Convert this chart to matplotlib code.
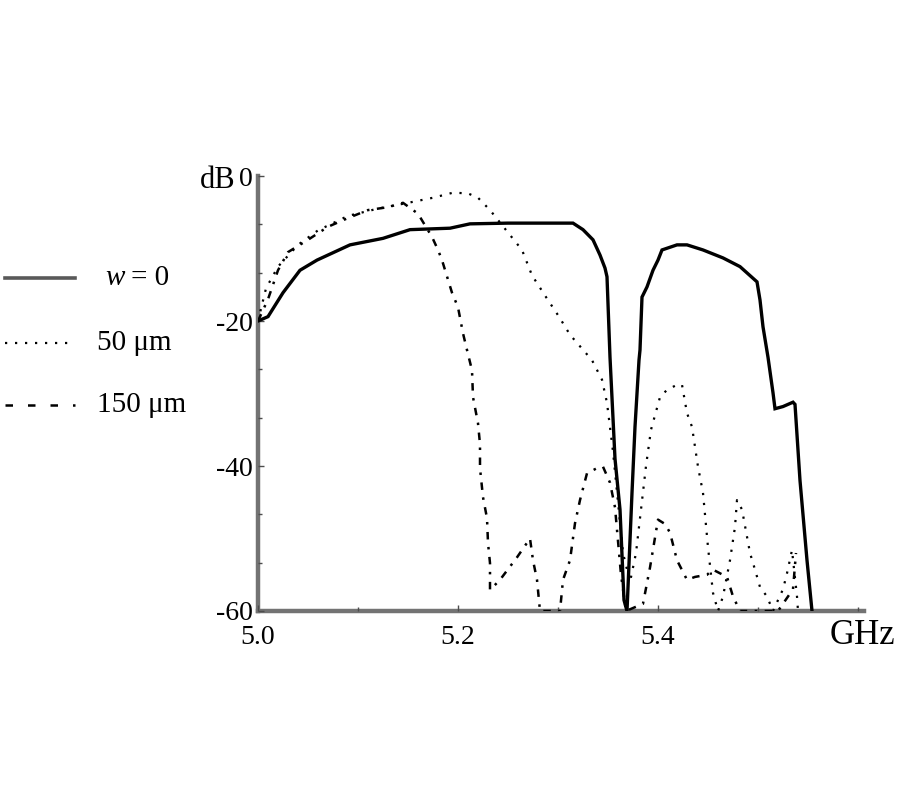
import matplotlib
matplotlib.use("Agg")
import matplotlib.pyplot as plt
from matplotlib.lines import Line2D

# ---- data ----
freq_w0 = [5.000, 5.010, 5.025, 5.042, 5.059, 5.092, 5.125, 5.152, 5.192, 5.212, 5.250,
           5.315, 5.325, 5.335, 5.342, 5.347, 5.349, 5.352, 5.357, 5.362, 5.366, 5.369,
           5.374, 5.377, 5.381, 5.382, 5.384, 5.389, 5.395, 5.400, 5.404, 5.419, 5.429,
           5.445, 5.465, 5.482, 5.499, 5.502, 5.505, 5.510, 5.515, 5.517, 5.525, 5.535,
           5.537, 5.542, 5.549, 5.554]
db_w0 = [-20.0, -19.4, -16.1, -13.0, -11.6, -9.5, -8.6, -7.4, -7.2, -6.6, -6.5,
         -6.5, -7.4, -8.8, -10.9, -12.7, -13.9, -25.0, -39.0, -46.0, -58.5, -60.0,
         -43.7, -34.6, -25.4, -24.0, -16.7, -15.3, -13.0, -11.6, -10.2, -9.5, -9.5,
         -10.2, -11.3, -12.5, -14.6, -17.1, -20.8, -25.0, -29.9, -32.1, -31.8, -31.2,
         -31.5, -42.0, -53.0, -60.0]

freq_50 = [5.000, 5.008, 5.020, 5.040, 5.060, 5.090, 5.120, 5.150, 5.175, 5.195, 5.210,
           5.220, 5.232, 5.264, 5.274, 5.288, 5.301, 5.312, 5.334, 5.344, 5.349, 5.355,
           5.360, 5.365, 5.372, 5.378, 5.383, 5.388, 5.393, 5.402, 5.409, 5.419, 5.424,
           5.429, 5.434, 5.440, 5.445, 5.450, 5.455, 5.460, 5.465, 5.472, 5.477, 5.479,
           5.484, 5.492, 5.497, 5.502, 5.509, 5.515, 5.525, 5.529, 5.534, 5.539, 5.540]
db_50 = [-20.0, -15.5, -12.5, -9.5, -7.5, -5.5, -4.5, -3.7, -3.0, -2.3, -2.4,
         -3.0, -4.7, -10.2, -13.7, -16.7, -19.4, -21.9, -25.4, -28.1, -31.3, -38.0,
         -45.0, -52.0, -56.0, -52.0, -46.0, -40.0, -35.0, -30.5, -29.5, -28.8, -28.8,
         -32.7, -34.6, -40.1, -43.7, -51.2, -57.5, -60.0, -58.0, -53.0, -48.4, -44.7,
         -46.0, -52.0, -54.3, -56.7, -58.0, -60.0, -57.0, -54.8, -51.6, -58.0, -60.0]

freq_150 = [5.000, 5.010, 5.020, 5.030, 5.050, 5.070, 5.090, 5.110, 5.130, 5.145, 5.160,
            5.174, 5.180, 5.184, 5.190, 5.194, 5.200, 5.205, 5.209, 5.214, 5.215, 5.220,
            5.222, 5.222, 5.225, 5.229, 5.230, 5.232, 5.232, 5.242, 5.259, 5.272, 5.275,
            5.279, 5.282, 5.302, 5.305, 5.312, 5.317, 5.322, 5.329, 5.339, 5.345, 5.352,
            5.357, 5.363, 5.368, 5.385, 5.392, 5.400, 5.407, 5.412, 5.419, 5.429, 5.437,
            5.449, 5.455, 5.469, 5.475, 5.482, 5.520, 5.535, 5.538]
db_150 = [-20.0, -17.0, -13.0, -10.5, -8.8, -7.0, -5.8, -4.7, -4.3, -3.7, -5.2,
          -8.4, -10.2, -11.6, -14.3, -16.1, -18.1, -21.7, -24.0, -26.8, -30.5, -34.1,
          -37.0, -40.3, -44.3, -47.2, -50.6, -53.4, -57.1, -55.7, -52.6, -50.0, -53.0,
          -55.7, -60.0, -60.0, -55.7, -53.0, -47.9, -44.7, -41.0, -40.3, -40.1, -42.3,
          -45.7, -55.0, -60.0, -59.0, -54.0, -47.4, -48.0, -49.2, -53.0, -55.7, -55.3,
          -55.0, -54.3, -55.3, -58.0, -60.0, -60.0, -57.0, -52.0]

x_ticks = [5.0, 5.2, 5.4]
x_ticklabels = ["5.0", "5.2", "5.4"]
y_ticks = [0, -20, -40, -60]
y_ticklabels = ["0", "-20", "-40", "-60"]
legend_labels = ["w = 0", "50 μm", "150 μm"]

# ---- figure ----
W, H = 900, 800
fig = plt.figure(figsize=(9, 8), dpi=100)
ax = fig.add_axes([258 / W, 1 - 611 / H, (864 - 258) / W, (611 - 176) / H])

ax.plot(freq_w0, db_w0, color="black", lw=2.4, solid_joinstyle="miter")
ax.plot(freq_50, db_50, color="black", lw=1.6, linestyle=(0, (1, 3.5)))
ax.plot(freq_150, db_150, color="black", lw=1.8, linestyle=(0, (3, 3, 1, 3)))

ax.set_xlim(5.0, 5.606)
ax.set_ylim(-60, 0)
for s in ["top", "right"]:
    ax.spines[s].set_visible(False)
for s in ["left", "bottom"]:
    ax.spines[s].set_color("0.45")
    ax.spines[s].set_linewidth(3.2)
    ax.spines[s].set_zorder(0)

font = "Liberation Serif"
ax.set_xticks(x_ticks)
ax.set_xticklabels(x_ticklabels, fontfamily=font, fontsize=20)
ax.set_yticks(y_ticks)
ax.set_yticklabels(y_ticklabels, fontfamily=font, fontsize=20)
ax.set_xticks([5.1, 5.3, 5.5, 5.6], minor=True)
ax.set_yticks([-6.67, -13.33, -26.67, -33.33, -46.67, -53.33], minor=True)
ax.tick_params(axis="both", which="major", direction="in", length=4, width=1,
               color="0.3")
ax.tick_params(axis="x", which="major", pad=10)
ax.tick_params(axis="y", which="major", pad=4)
ax.tick_params(axis="both", which="minor", direction="in", length=3, width=1,
               color="0.3")
ax.patch.set_alpha(0)

# axis unit labels
fig.text(218 / W, 1 - 180 / H, "dB", fontfamily=font, fontsize=22,
         ha="center", va="center")
fig.text(862 / W, 1 - 635 / H, "GHz", fontfamily=font, fontsize=25,
         ha="center", va="center")

# manual legend at the left
leg_y = [278, 343, 405]
styles = [dict(color="0.35", lw=2.6, linestyle="-"),
          dict(color="black", lw=1.6, linestyle=(0, (1, 3.5))),
          dict(color="black", lw=1.8, linestyle=(0, (3, 6)))]
for yy, st, lab in zip(leg_y, styles, legend_labels):
    fy = 1 - yy / H
    fig.add_artist(Line2D([5 / W, 75 / W], [fy, fy], transform=fig.transFigure, **st))
    if lab.startswith("w"):
        fig.text(105 / W, fy, "w", fontfamily=font, fontsize=21, style="italic",
                 ha="left", va="center")
        fig.text(131 / W, fy, "= 0", fontfamily=font, fontsize=21,
                 ha="left", va="center")
    else:
        fig.text(97 / W, fy, lab, fontfamily=font, fontsize=21,
                 ha="left", va="center")

fig.savefig("out.png", dpi=100)
